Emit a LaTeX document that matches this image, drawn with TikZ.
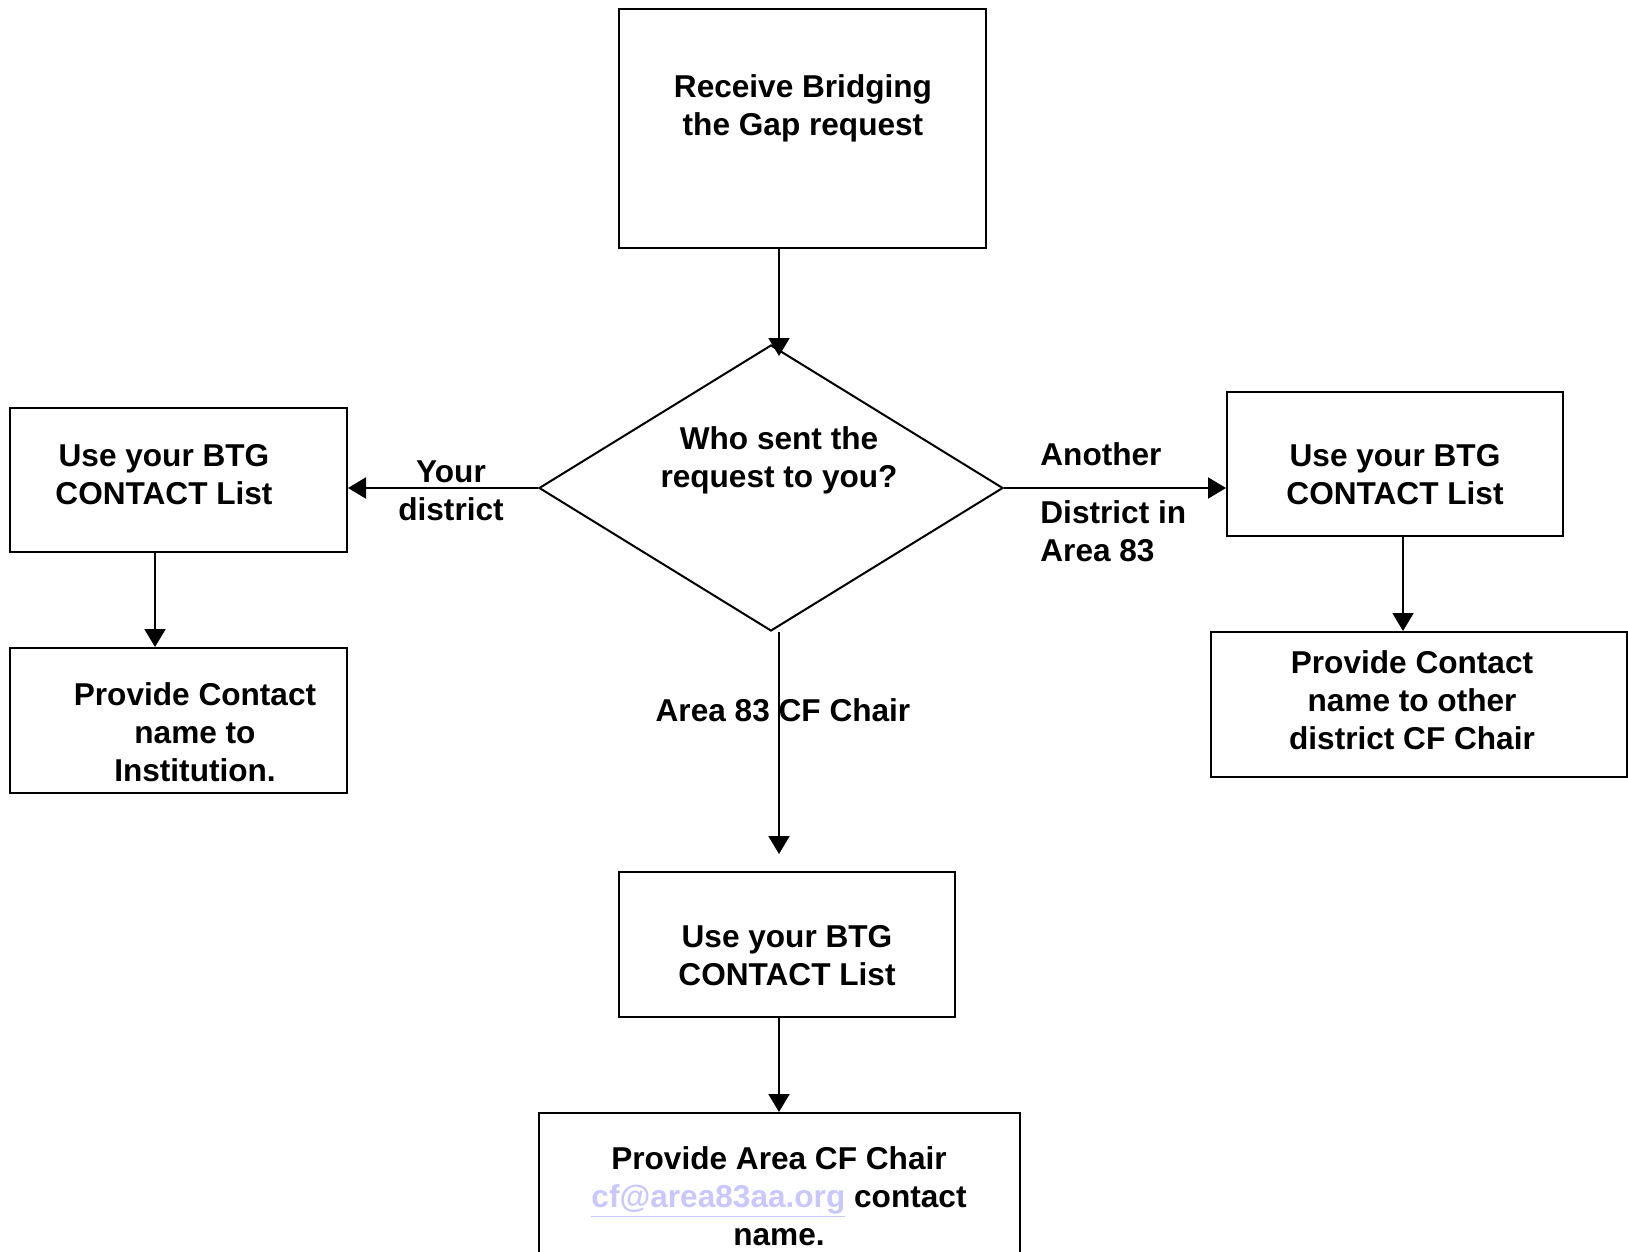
\documentclass[tikz,border=0pt]{standalone}
\usepackage{fontspec}
\setmainfont{Liberation Sans}
\usetikzlibrary{arrows.meta,shapes.geometric,fit}

\definecolor{maillilac}{RGB}{200,200,255}

\tikzset{
  box/.style={draw, line width=1pt, inner sep=0pt},
  lbl/.style={font=\bfseries\fontsize{15.8}{19}\selectfont, align=center, inner sep=0pt},
  arr/.style={line width=1pt, -{Triangle[length=9pt,width=10.5pt]}},
}

\begin{document}
\begin{tikzpicture}[x=0.5pt,y=-0.5pt]
  \useasboundingbox (0,0) rectangle (1628,1252);

  % boxes
  \node[box, fit={(619,9) (986,248)}] (recv) {};
  \node[box, diamond, minimum width=232pt, minimum height=143pt] (dia) at (771,488) {};
  \node[box, fit={(10,408) (347,552)}] (lctl) {};
  \node[box, fit={(10,648) (347,793)}] (lprov) {};
  \node[box, fit={(1227,392) (1563,536)}] (rctl) {};
  \node[box, fit={(1211,632) (1627,777)}] (rprov) {};
  \node[box, fit={(619,872) (955,1017)}] (actl) {};
  \node[box, fit={(539,1113) (1020,1300)}] (aprov) {};

  % texts
  \node[lbl] (recvt) at (803,108) {Receive Bridging\\the Gap request};
  \node[lbl] (diat) at (779,460) {Who sent the\\request to you?};
  \node[lbl] (lctlt) at (164,475) {Use your BTG\\CONTACT List};
  \node[lbl] (lprovt) at (195,732) {Provide Contact\\name to\\Institution.};
  \node[lbl] (rctlt) at (1395,475) {Use your BTG\\CONTACT List};
  \node[lbl] (rprovt) at (1412,700) {Provide Contact\\name to other\\district CF Chair};
  \node[lbl] (actlt) at (787,956) {Use your BTG\\CONTACT List};
  \node[lbl] (aprovt) at (779,1196) {Provide Area CF Chair\\
    {\color{maillilac}\underline{cf@area83aa.org}} contact\\name.};

  % branch labels
  \node[lbl] (yours) at (451,491) {Your\\district};
  \node[lbl, anchor=west] (other1) at (1040,454) {Another};
  \node[lbl, anchor=west, align=left] (other2) at (1040,531) {District in\\Area 83};
  \node[lbl] (areach) at (783,710) {Area 83 CF Chair};

  % lanes for the vertical arrows
  \coordinate (lanel) at (155,0);
  \coordinate (lanem) at (779,0);
  \coordinate (laner) at (1403,0);

  \draw[arr, shorten >=-6pt] (recv.south -| lanem) -- (dia.north -| lanem);
  \draw[arr] (dia.west) -- (dia.west -| lctl.east);
  \draw[arr] (dia.east) -- (dia.east -| rctl.west);
  \draw[arr] (lctl.south -| lanel) -- (lprov.north -| lanel);
  \draw[arr] (rctl.south -| laner) -- (rprov.north -| laner);
  \draw[arr, shorten >=8.5pt] (dia.south -| lanem) -- (actl.north -| lanem);
  \draw[arr] (actl.south -| lanem) -- (aprov.north -| lanem);
\end{tikzpicture}
\end{document}
